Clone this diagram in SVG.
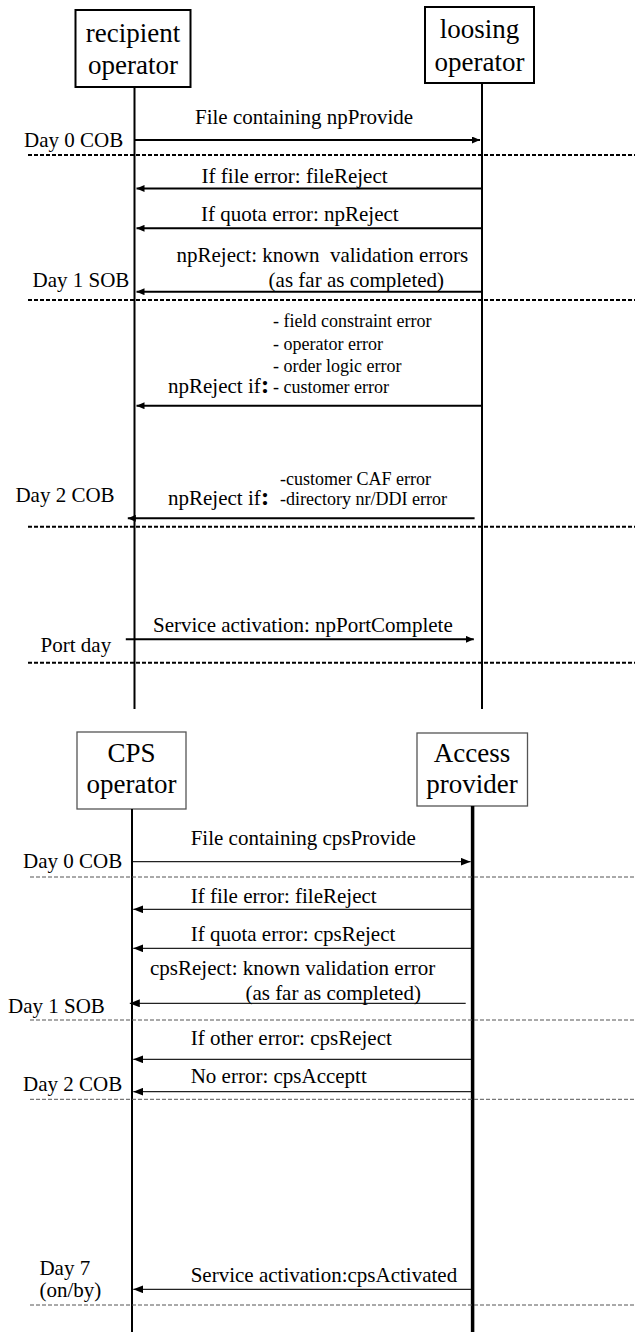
<svg xmlns="http://www.w3.org/2000/svg" width="635" height="1332" viewBox="0 0 635 1332">
<style>
text{font-family:"Liberation Serif","Times New Roman",serif;fill:#000}
.box{font-size:27px}
.lbl{font-size:21px}
.sm{font-size:18px}
.nbox{fill:#fff;stroke:#000;stroke-width:2}
.nbox2{fill:#fff;stroke:#555;stroke-width:1.3}
.life{stroke:#000;stroke-width:2;fill:none}
.lifeb{stroke:#000;stroke-width:3.5;fill:none}
.msg{stroke:#000;stroke-width:2;fill:none}
.msg2{stroke:#222;stroke-width:1.2;fill:none}
.dash{stroke:#000;stroke-width:2;stroke-dasharray:4 2;fill:none}
.dash2{stroke:#555;stroke-width:1;stroke-dasharray:4 2;fill:none}
</style>
<defs>
<marker id="ah" markerUnits="userSpaceOnUse" markerWidth="8" markerHeight="7" refX="8" refY="3.5" orient="auto">
<path d="M0,0 L8,3.5 L0,7 z" fill="#000"/>
</marker>
<marker id="ah2" markerUnits="userSpaceOnUse" markerWidth="10" markerHeight="8" refX="10" refY="4" orient="auto">
<path d="M0,0 L10,4 L0,8 z" fill="#000"/>
</marker>
</defs>
<rect width="635" height="1332" fill="#fff"/>

<g id="recipient">
<rect class="nbox" x="75.5" y="10" width="115" height="77"/>
<text class="box" x="133" y="42" text-anchor="middle">recipient</text>
<text class="box" x="133" y="73.5" text-anchor="middle">operator</text>
<line class="life" x1="134.5" y1="87" x2="134.5" y2="709"/>
</g>
<g id="loosing">
<rect class="nbox" x="425" y="7" width="109" height="76"/>
<text class="box" x="479.5" y="38" text-anchor="middle">loosing</text>
<text class="box" x="479.5" y="70.5" text-anchor="middle">operator</text>
<line class="life" x1="482" y1="83" x2="482" y2="709"/>
</g>
<g id="cps">
<rect class="nbox2" x="77" y="732" width="109" height="77"/>
<text class="box" x="131.5" y="762" text-anchor="middle">CPS</text>
<text class="box" x="131.5" y="793" text-anchor="middle">operator</text>
<line class="life" x1="132" y1="809" x2="132" y2="1332"/>
</g>
<g id="access">
<rect class="nbox2" x="417" y="733" width="110.5" height="73"/>
<text class="box" x="472" y="762" text-anchor="middle">Access</text>
<text class="box" x="472" y="793" text-anchor="middle">provider</text>
<line class="lifeb" x1="472.6" y1="806" x2="472.6" y2="1332"/>
</g>

<g id="timeline">
<line class="dash" x1="28" y1="155" x2="635" y2="155"/>
<line class="dash" x1="28" y1="300" x2="635" y2="300"/>
<line class="dash" x1="28" y1="526.7" x2="635" y2="526.7"/>
<line class="dash" x1="28" y1="662.7" x2="635" y2="662.7"/>
<text class="lbl" x="24" y="147">Day 0 COB</text>
<text class="lbl" x="32.5" y="287">Day 1 SOB</text>
<text class="lbl" x="15.4" y="502">Day 2 COB</text>
<text class="lbl" x="40.6" y="651.7">Port day</text>

<line class="dash2" x1="30" y1="877" x2="635" y2="877"/>
<line class="dash2" x1="30" y1="1020" x2="635" y2="1020"/>
<line class="dash2" x1="30" y1="1099.3" x2="635" y2="1099.3"/>
<line class="dash2" x1="30" y1="1305" x2="635" y2="1305"/>
<text class="lbl" x="23" y="868">Day 0 COB</text>
<text class="lbl" x="8" y="1013">Day 1 SOB</text>
<text class="lbl" x="23" y="1091">Day 2 COB</text>
<text class="lbl" x="39.4" y="1275">Day 7</text>
<text class="lbl" x="39.4" y="1297">(on/by)</text>
</g>

<g id="connectors">
<line class="msg" x1="135" y1="140" x2="480" y2="140" marker-end="url(#ah)"/>
<line class="msg" x1="481" y1="188.5" x2="136.5" y2="188.5" marker-end="url(#ah)"/>
<line class="msg" x1="481" y1="228.3" x2="136.5" y2="228.3" marker-end="url(#ah)"/>
<line class="msg" x1="481" y1="291.7" x2="136.5" y2="291.7" marker-end="url(#ah)"/>
<line class="msg" x1="481" y1="405.7" x2="136.5" y2="405.7" marker-end="url(#ah)"/>
<line class="msg" x1="474.6" y1="518.3" x2="127.8" y2="518.3" marker-end="url(#ah)"/>
<line class="msg" x1="125.8" y1="639.3" x2="473.8" y2="639.3" marker-end="url(#ah)"/>

<line class="msg2" x1="133" y1="861.7" x2="470.6" y2="861.7" marker-end="url(#ah2)"/>
<line class="msg2" x1="471" y1="909.3" x2="133.3" y2="909.3" marker-end="url(#ah2)"/>
<line class="msg2" x1="471" y1="948.3" x2="133.3" y2="948.3" marker-end="url(#ah2)"/>
<line class="msg2" x1="465.7" y1="1003.3" x2="129.8" y2="1003.3" marker-end="url(#ah2)"/>
<line class="msg2" x1="471" y1="1059.3" x2="133.3" y2="1059.3" marker-end="url(#ah2)"/>
<line class="msg2" x1="471" y1="1091.7" x2="133.3" y2="1091.7" marker-end="url(#ah2)"/>
<line class="msg2" x1="471" y1="1289.3" x2="133.3" y2="1289.3" marker-end="url(#ah2)"/>
</g>

<g id="labels">
<text class="lbl" x="195" y="124">File containing npProvide</text>
<text class="lbl" x="201.6" y="182.5">If file error: fileReject</text>
<text class="lbl" x="201" y="221">If quota error: npReject</text>
<text class="lbl" x="176.5" y="261.7" xml:space="preserve">npReject: known  validation errors</text>
<text class="lbl" x="268.6" y="286.7">(as far as completed)</text>
<text class="sm" x="273" y="326.7">- field constraint error</text>
<text class="sm" x="273" y="350">- operator error</text>
<text class="sm" x="273" y="371.7">- order logic error</text>
<text class="sm" x="273" y="393.3">- customer error</text>
<text class="lbl" x="168" y="393.3">npReject if<tspan font-size="26" font-weight="bold">:</tspan></text>
<text class="sm" x="280" y="485">-customer CAF error</text>
<text class="sm" x="280" y="505">-directory nr/DDI error</text>
<text class="lbl" x="168" y="505">npReject if<tspan font-size="26" font-weight="bold">:</tspan></text>
<text class="lbl" x="153" y="632">Service activation: npPortComplete</text>

<text class="lbl" x="190.7" y="845">File containing cpsProvide</text>
<text class="lbl" x="190.7" y="903">If file error: fileReject</text>
<text class="lbl" x="190.7" y="941">If quota error: cpsReject</text>
<text class="lbl" x="150" y="975">cpsReject: known validation error</text>
<text class="lbl" x="245.4" y="1000">(as far as completed)</text>
<text class="lbl" x="190.7" y="1045">If other error: cpsReject</text>
<text class="lbl" x="190.7" y="1083">No error: cpsAcceptt</text>
<text class="lbl" x="190.7" y="1281.7">Service activation:cpsActivated</text>
</g>
</svg>
